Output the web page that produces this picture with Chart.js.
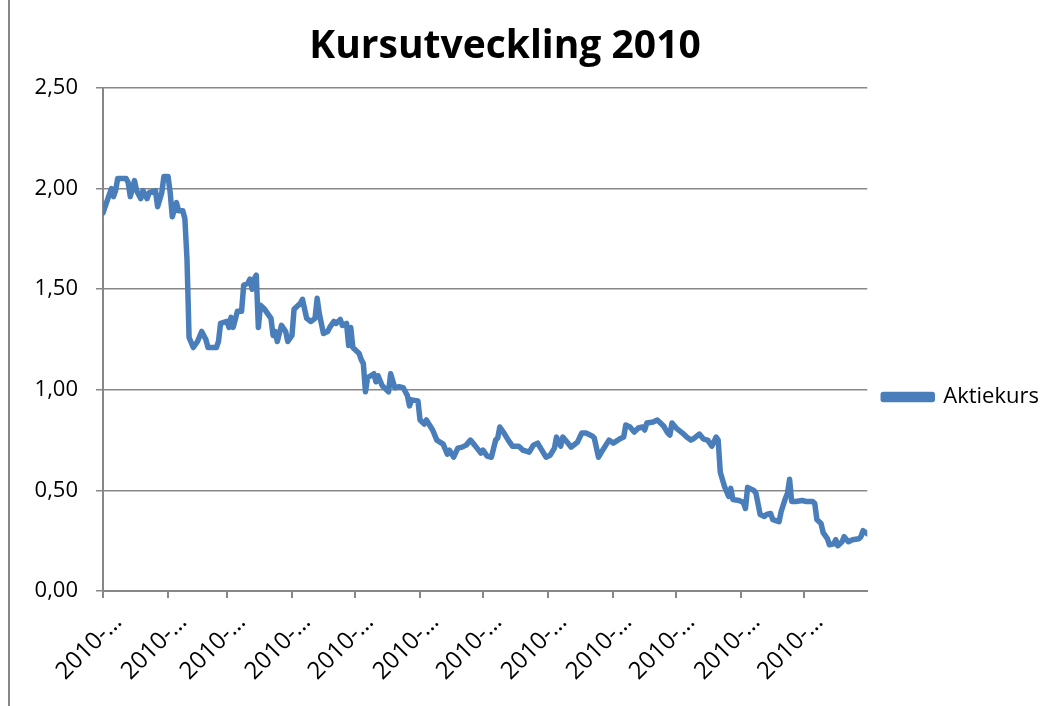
<!DOCTYPE html>
<html>
<head>
<meta charset="utf-8">
<script src="https://cdn.jsdelivr.net/npm/chart.js@4.4.1/dist/chart.umd.min.js"></script>
<style>
html, body { margin: 0; padding: 0; background: #fff; }
canvas { display: block; }
</style>
</head>
<body>
<canvas id="kursChart" width="1061" height="706"></canvas>
<script>
// Data
const titel = 'Kursutveckling 2010';
const serieNamn = 'Aktiekurs';

const datum = [
    '2010-01-01','2010-01-03','2010-01-05','2010-01-06','2010-01-07','2010-01-08','2010-01-12','2010-01-13','2010-01-14','2010-01-16',
    '2010-01-17','2010-01-19','2010-01-20','2010-01-22','2010-01-23','2010-01-26','2010-01-27','2010-01-29','2010-01-30',
    '2010-02-01','2010-02-02','2010-02-03','2010-02-05','2010-02-06','2010-02-08','2010-02-09','2010-02-10','2010-02-11','2010-02-13',
    '2010-02-15','2010-02-17','2010-02-19','2010-02-20','2010-02-24','2010-02-25','2010-02-26',
    '2010-03-01','2010-03-02','2010-03-03','2010-03-04','2010-03-06','2010-03-08','2010-03-09','2010-03-11','2010-03-12','2010-03-13',
    '2010-03-14','2010-03-15','2010-03-16','2010-03-17','2010-03-19','2010-03-22','2010-03-23','2010-03-24','2010-03-25','2010-03-27',
    '2010-03-29','2010-03-30',
    '2010-04-01','2010-04-02','2010-04-05','2010-04-06','2010-04-08','2010-04-10','2010-04-12','2010-04-13','2010-04-14','2010-04-16',
    '2010-04-18','2010-04-19','2010-04-21','2010-04-22','2010-04-24','2010-04-25','2010-04-27','2010-04-28','2010-04-29','2010-04-30',
    '2010-05-03','2010-05-04','2010-05-05','2010-05-06','2010-05-07','2010-05-10','2010-05-11','2010-05-12','2010-05-14','2010-05-16',
    '2010-05-17','2010-05-18','2010-05-20','2010-05-22','2010-05-24','2010-05-26','2010-05-27','2010-05-28','2010-05-31',
    '2010-06-01','2010-06-03','2010-06-04','2010-06-07','2010-06-09','2010-06-12','2010-06-14','2010-06-15','2010-06-17','2010-06-19',
    '2010-06-21','2010-06-23','2010-06-25','2010-06-27','2010-06-30',
    '2010-07-01','2010-07-03','2010-07-05','2010-07-07','2010-07-08','2010-07-09','2010-07-11','2010-07-13','2010-07-15','2010-07-18',
    '2010-07-20','2010-07-23','2010-07-25','2010-07-27','2010-07-29','2010-07-31',
    '2010-08-02','2010-08-04','2010-08-05','2010-08-07','2010-08-08','2010-08-10','2010-08-12','2010-08-15','2010-08-17','2010-08-19',
    '2010-08-22','2010-08-23','2010-08-25','2010-08-27','2010-08-30',
    '2010-09-01','2010-09-04','2010-09-06','2010-09-07','2010-09-09','2010-09-11','2010-09-13','2010-09-15','2010-09-16','2010-09-17',
    '2010-09-20','2010-09-22','2010-09-23','2010-09-25','2010-09-27','2010-09-28','2010-09-29',
    '2010-10-01','2010-10-04','2010-10-06','2010-10-08','2010-10-09','2010-10-12','2010-10-14','2010-10-16','2010-10-18','2010-10-20',
    '2010-10-21','2010-10-22','2010-10-24','2010-10-26','2010-10-27','2010-10-28','2010-10-31',
    '2010-11-02','2010-11-03','2010-11-04','2010-11-07','2010-11-08','2010-11-10','2010-11-12','2010-11-13','2010-11-15','2010-11-16',
    '2010-11-19','2010-11-20','2010-11-22','2010-11-23','2010-11-24','2010-11-25','2010-11-27','2010-11-30',
    '2010-12-02','2010-12-05','2010-12-06','2010-12-07','2010-12-09','2010-12-10','2010-12-12','2010-12-13','2010-12-15','2010-12-16',
    '2010-12-17','2010-12-19','2010-12-20','2010-12-22','2010-12-24','2010-12-27','2010-12-28','2010-12-29','2010-12-31'
];

const kurs = [
    1.88, 1.94, 2.00, 1.96, 1.99, 2.05, 2.05, 2.03, 1.96, 2.04,
    1.99, 1.95, 1.99, 1.95, 1.98, 1.99, 1.91, 1.98, 2.06,
    2.06, 1.98, 1.86, 1.93, 1.89, 1.89, 1.85, 1.65, 1.26, 1.21,
    1.24, 1.29, 1.25, 1.21, 1.21, 1.24, 1.33,
    1.34, 1.31, 1.36, 1.31, 1.39, 1.39, 1.52, 1.53, 1.55, 1.50,
    1.55, 1.57, 1.31, 1.42, 1.40, 1.355, 1.27, 1.29, 1.24, 1.32,
    1.29, 1.24,
    1.27, 1.40, 1.43, 1.45, 1.355, 1.34, 1.355, 1.455, 1.38, 1.28,
    1.29, 1.31, 1.34, 1.33, 1.35, 1.32, 1.33, 1.22, 1.31, 1.21,
    1.18, 1.15, 1.13, 0.99, 1.06, 1.08, 1.04, 1.07, 1.02, 1.00,
    0.99, 1.08, 1.01, 1.015, 1.01, 0.97, 0.92, 0.95, 0.945,
    0.85, 0.83, 0.85, 0.80, 0.75, 0.73, 0.68, 0.70, 0.665, 0.71,
    0.715, 0.725, 0.75, 0.725, 0.685,
    0.70, 0.67, 0.665, 0.75, 0.76, 0.815, 0.785, 0.75, 0.72, 0.72,
    0.70, 0.69, 0.725, 0.735, 0.70, 0.665,
    0.675, 0.71, 0.765, 0.72, 0.765, 0.74, 0.715, 0.74, 0.785, 0.785,
    0.77, 0.76, 0.665, 0.70, 0.75,
    0.735, 0.755, 0.765, 0.825, 0.815, 0.79, 0.81, 0.815, 0.80, 0.835,
    0.84, 0.85, 0.84, 0.82, 0.785, 0.775, 0.835,
    0.81, 0.785, 0.765, 0.75, 0.755, 0.78, 0.755, 0.75, 0.72, 0.765,
    0.75, 0.59, 0.52, 0.47, 0.51, 0.455, 0.45,
    0.44, 0.41, 0.515, 0.50, 0.485, 0.38, 0.37, 0.38, 0.385, 0.355,
    0.345, 0.395, 0.46, 0.485, 0.555, 0.445, 0.445, 0.45,
    0.445, 0.445, 0.435, 0.355, 0.335, 0.29, 0.26, 0.23, 0.235, 0.255,
    0.225, 0.245, 0.27, 0.245, 0.255, 0.26, 0.27, 0.30, 0.285
];

// x-axis ticks: first day of every month, y-axis ticks
const manadsStart = ['2010-01-01','2010-02-01','2010-03-01','2010-04-01','2010-05-01','2010-06-01',
                     '2010-07-01','2010-08-01','2010-09-01','2010-10-01','2010-11-01','2010-12-01'];
const xTickText = '2010-…';
const yTicks = [0, 0.5, 1.0, 1.5, 2.0, 2.5];

const startDag = '2010-01-01';
const slutDag = '2010-12-31';

function dag(d) {
    return (Date.parse(d) - Date.parse(startDag)) / 86400000;
}

const GRAY = '#878787';
const BLUE = '#4A7EBB';

Chart.defaults.font.family = '"Open Sans", sans-serif';
Chart.defaults.color = '#000';

// frame line on the left and the title, drawn like the original sheet
const ramPlugin = {
    id: 'ram',
    beforeDraw(chart) {
        const ctx = chart.ctx;
        ctx.save();
        ctx.fillStyle = '#fff';
        ctx.fillRect(0, 0, chart.width, chart.height);
        ctx.strokeStyle = GRAY;
        ctx.lineWidth = 2;
        ctx.beginPath();
        ctx.moveTo(9, 0);
        ctx.lineTo(9, chart.height);
        ctx.stroke();
        ctx.restore();
    },
    afterDraw(chart) {
        const ctx = chart.ctx;
        ctx.save();
        ctx.font = 'bold 39px "Open Sans", sans-serif';
        ctx.fillStyle = '#000';
        ctx.textAlign = 'center';
        ctx.textBaseline = 'alphabetic';
        ctx.fillText(titel, 505, 58);
        ctx.restore();
    }
};

const ctx = document.getElementById('kursChart').getContext('2d');
const kursChart = new Chart(ctx, {
    type: 'line',
    data: {
        datasets: [{
            label: serieNamn,
            data: datum.map((d, i) => ({ x: dag(d), y: kurs[i] })),
            borderColor: BLUE,
            backgroundColor: BLUE,
            borderWidth: 5.5,
            pointRadius: 0,
            tension: 0,
            borderJoinStyle: 'round',
            borderCapStyle: 'round'
        }]
    },
    options: {
        responsive: false,
        animation: false,
        layout: { padding: { top: 88, left: 0, right: 12, bottom: 0 } },
        plugins: {
            title: { display: false },
            tooltip: { enabled: false },
            legend: {
                position: 'right',
                labels: {
                    boxWidth: 49,
                    boxHeight: 5,
                    padding: 16,
                    color: '#000',
                    font: { size: 22 }
                }
            }
        },
        scales: {
            x: {
                type: 'linear',
                min: dag(startDag),
                max: dag(slutDag),
                afterBuildTicks: scale => {
                    scale.ticks = manadsStart.map(d => ({ value: dag(d) }));
                },
                afterFit: scale => { scale.height = 115; },
                ticks: {
                    autoSkip: false,
                    minRotation: 45,
                    maxRotation: 45,
                    padding: 10,
                    labelOffset: 15,
                    color: '#000',
                    font: { size: 24 },
                    callback: () => xTickText
                },
                grid: {
                    drawOnChartArea: false,
                    drawTicks: true,
                    tickLength: 7,
                    color: GRAY,
                    lineWidth: 2
                },
                border: { display: true, color: GRAY, width: 2 }
            },
            y: {
                min: 0,
                max: 2.5,
                afterBuildTicks: scale => {
                    scale.ticks = yTicks.map(v => ({ value: v }));
                },
                afterFit: scale => { scale.width = 103; },
                ticks: {
                    padding: 18,
                    color: '#000',
                    font: { size: 22 },
                    callback: v => v.toFixed(2).replace('.', ',')
                },
                grid: {
                    color: GRAY,
                    lineWidth: 1.5,
                    drawTicks: true,
                    tickLength: 7
                },
                border: { display: true, color: GRAY, width: 2 }
            }
        }
    },
    plugins: [ramPlugin]
});
</script>
</body>
</html>
